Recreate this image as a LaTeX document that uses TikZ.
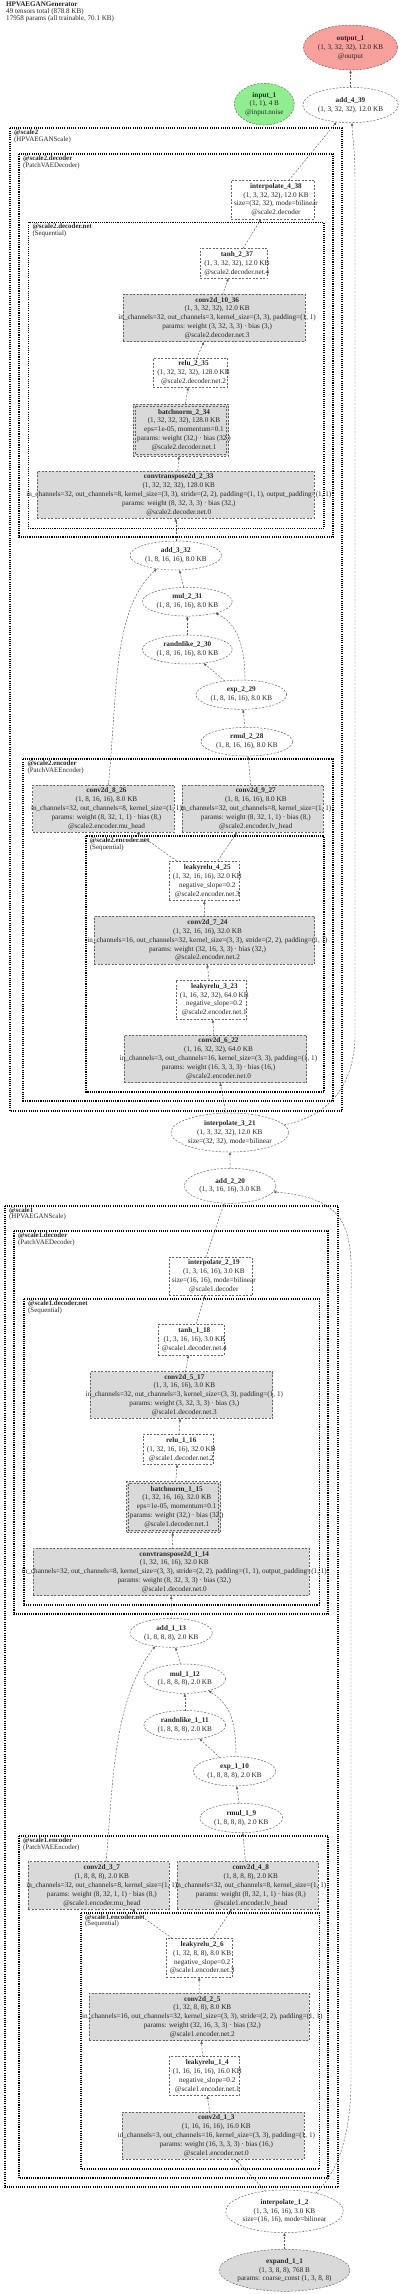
\documentclass[tikz,border=0pt]{standalone}
\usepackage{fontspec}
\setmainfont{Liberation Serif}
\usetikzlibrary{shapes.geometric,arrows.meta}
\definecolor{salmonx}{RGB}{247,160,156}
\definecolor{greenx}{RGB}{144,238,144}
\definecolor{grayx}{RGB}{217,217,217}
\newcommand\bx[7]{%
  \node[#2, minimum width={(#5-#3)*1pt}, minimum height={(#6-#4)*1pt}] (#1) at ({(#3+#5)/2},{(#4+#6)/2}) {};
  \node[txt] (#1t) at ([xshift=3pt]#1.center) {#7};}
\newcommand\el[7]{%
  \node[#2, minimum width=#5pt, minimum height=#6pt] (#1) at (#3,#4) {};
  \node[txt] (#1t) at (#1.center) {#7};}
\newcommand\clu[7]{%
  \draw[#1] (#2,#3) rectangle (#4,#5);
  \node[clab] (#6) at ({#2+4},{#3+1.6}) {#7};}
\begin{document}
\begin{tikzpicture}[x=1pt,y=-1pt,
  nb/.style={draw=black!60, dash pattern=on 2pt off 1.5pt, line width=0.5pt, inner sep=0pt, outer sep=0pt},
  wbox/.style={nb, rectangle, fill=white},
  gbox/.style={nb, rectangle, fill=grayx},
  well/.style={nb, ellipse, fill=white},
  txt/.style={align=center, inner sep=0pt, text=black!85, font=\fontsize{7.2}{8.9}\selectfont},
  clA/.style={draw=black, line width=2.2pt, dash pattern=on 1.1pt off 1.1pt},
  clB/.style={draw=black, line width=1.9pt, dash pattern=on 1.1pt off 1.1pt},
  clC/.style={draw=black, line width=1.6pt, dash pattern=on 1.1pt off 1.1pt},
  clab/.style={anchor=north west, align=left, inner sep=0pt, text=black!85, font=\fontsize{6.9}{6.6}\selectfont},
  edge/.style={draw=black!65, line width=0.45pt, dash pattern=on 2pt off 1.5pt, -{Latex[length=3.2pt,width=2.6pt]}},
]
\useasboundingbox (0,0) rectangle (400,2294);
\node[clab, font=\fontsize{7.1}{6.7}\selectfont] (title) at (6,2) {\textbf{HPVAEGANGenerator}\\49 tensors total (878.8 KB)\\17958 params (all trainable, 70.1 KB)};

% clusters
\clu{clA}{10}{128.3}{342.3}{1110.7}{cs2}{\textbf{@scale2}\\(HPVAEGANScale)}
\clu{clB}{19}{154}{333.3}{537.3}{cs2d}{\textbf{@scale2.decoder}\\(PatchVAEDecoder)}
\clu{clC}{28.3}{222.3}{324}{528.3}{cs2dn}{\textbf{@scale2.decoder.net}\\(Sequential)}
\clu{clB}{23.3}{759.3}{333.3}{1100.7}{cs2e}{\textbf{@scale2.encoder}\\(PatchVAEEncoder)}
\clu{clC}{85.7}{836}{324}{1091.7}{cs2en}{\textbf{@scale2.encoder.net}\\(Sequential)}
\clu{clA}{5}{1205.7}{338.3}{2187.3}{cs1}{\textbf{@scale1}\\(HPVAEGANScale)}
\clu{clB}{14}{1231}{328.3}{1614.3}{cs1d}{\textbf{@scale1.decoder}\\(PatchVAEDecoder)}
\clu{clC}{24}{1299}{319.3}{1605}{cs1dn}{\textbf{@scale1.decoder.net}\\(Sequential)}
\clu{clB}{19}{1836}{328.3}{2178.3}{cs1e}{\textbf{@scale1.encoder}\\(PatchVAEEncoder)}
\clu{clC}{81}{1912.7}{319.3}{2169}{cs1en}{\textbf{@scale1.encoder.net}\\(Sequential)}

% top
\el{out1}{well, fill=salmonx}{350.5}{47.5}{94.4}{45}{\textbf{output\_1}\\(1, 3, 32, 32), 12.0 KB\\@output}
\el{in1}{well, fill=greenx}{264.3}{104.2}{60}{41.7}{\textbf{input\_1}\\(1, 1), 4 B\\@input.noise}
\el{a439}{well}{350.5}{105}{95.6}{35.4}{\textbf{add\_4\_39}\\(1, 3, 32, 32), 12.0 KB}

% scale2 decoder
\bx{i438}{wbox}{231.3}{180.3}{314.7}{219}{\textbf{interpolate\_4\_38}\\(1, 3, 32, 32), 12.0 KB\\size=(32, 32), mode=bilinear\\@scale2.decoder}
\bx{t237}{wbox}{200}{248.3}{267.7}{278.3}{\textbf{tanh\_2\_37}\\(1, 3, 32, 32), 12.0 KB\\@scale2.decoder.net.4}
\bx{c1036}{gbox}{123.3}{294.3}{305}{341.7}{\textbf{conv2d\_10\_36}\\(1, 3, 32, 32), 12.0 KB\\in\_channels=32, out\_channels=3, kernel\_size=(3, 3), padding=(1, 1)\\params: weight (3, 32, 3, 3) · bias (3,)\\@scale2.decoder.net.3}
\bx{r235}{wbox}{153.3}{358.3}{227.7}{387.3}{\textbf{relu\_2\_35}\\(1, 32, 32, 32), 128.0 KB\\@scale2.decoder.net.2}
\bx{b234}{gbox}{133.3}{404}{228.7}{456}{}
\draw[nb] ([shift={(2pt,-2pt)}]b234.north west) rectangle ([shift={(-2pt,2pt)}]b234.south east);
\node[txt] (b234t) at ([xshift=3pt]b234.center) {\textbf{batchnorm\_2\_34}\\(1, 32, 32, 32), 128.0 KB\\eps=1e-05, momentum=0.1\\params: weight (32,) · bias (32,)\\@scale2.decoder.net.1};
\bx{ct233}{gbox}{37.3}{471}{314.3}{518.3}{\textbf{convtranspose2d\_2\_33}\\(1, 32, 32, 32), 128.0 KB\\in\_channels=32, out\_channels=8, kernel\_size=(3, 3), stride=(2, 2), padding=(1, 1), output\_padding=(1, 1)\\params: weight (8, 32, 3, 3) · bias (32,)\\@scale2.decoder.net.0}

% scale2 latent
\el{a332}{well}{175.8}{555.5}{91.7}{29}{\textbf{add\_3\_32}\\(1, 8, 16, 16), 8.0 KB}
\el{m231}{well}{187.3}{601.7}{90}{28.7}{\textbf{mul\_2\_31}\\(1, 8, 16, 16), 8.0 KB}
\el{r230}{well}{187.3}{649.5}{90}{29}{\textbf{randnlike\_2\_30}\\(1, 8, 16, 16), 8.0 KB}
\el{e229}{well}{241.3}{694.7}{90.7}{29.3}{\textbf{exp\_2\_29}\\(1, 8, 16, 16), 8.0 KB}
\el{rm228}{well}{246.8}{741.7}{91.7}{28.7}{\textbf{rmul\_2\_28}\\(1, 8, 16, 16), 8.0 KB}

% scale2 encoder
\bx{c826}{gbox}{32.7}{785}{174.3}{832.3}{\textbf{conv2d\_8\_26}\\(1, 8, 16, 16), 8.0 KB\\in\_channels=32, out\_channels=8, kernel\_size=(1, 1)\\params: weight (8, 32, 1, 1) · bias (8,)\\@scale2.encoder.mu\_head}
\bx{c927}{gbox}{182.3}{785}{323.3}{832.3}{\textbf{conv2d\_9\_27}\\(1, 8, 16, 16), 8.0 KB\\in\_channels=32, out\_channels=8, kernel\_size=(1, 1)\\params: weight (8, 32, 1, 1) · bias (8,)\\@scale2.encoder.lv\_head}
\bx{l425}{wbox}{169.3}{861}{239.3}{900.7}{\textbf{leakyrelu\_4\_25}\\(1, 32, 16, 16), 32.0 KB\\negative\_slope=0.2\\@scale2.encoder.net.3}
\bx{c724}{gbox}{94.3}{916.3}{314.7}{964.3}{\textbf{conv2d\_7\_24}\\(1, 32, 16, 16), 32.0 KB\\in\_channels=16, out\_channels=32, kernel\_size=(3, 3), stride=(2, 2), padding=(1, 1)\\params: weight (32, 16, 3, 3) · bias (32,)\\@scale2.encoder.net.2}
\bx{l323}{wbox}{176}{980}{246.7}{1019.3}{\textbf{leakyrelu\_3\_23}\\(1, 16, 32, 32), 64.0 KB\\negative\_slope=0.2\\@scale2.encoder.net.1}
\bx{c622}{gbox}{124.3}{1035}{306.7}{1082.7}{\textbf{conv2d\_6\_22}\\(1, 16, 32, 32), 64.0 KB\\in\_channels=3, out\_channels=16, kernel\_size=(3, 3), padding=(1, 1)\\params: weight (16, 3, 3, 3) · bias (16,)\\@scale2.encoder.net.0}

\el{i321}{well}{229.8}{1132.5}{117.7}{39}{\textbf{interpolate\_3\_21}\\(1, 3, 32, 32), 12.0 KB\\size=(32, 32), mode=bilinear}
\el{a220}{well}{230.2}{1185.8}{91.7}{35}{\textbf{add\_2\_20}\\(1, 3, 16, 16), 3.0 KB}

% scale1 decoder
\bx{i219}{wbox}{169.3}{1257.3}{252.3}{1295.7}{\textbf{interpolate\_2\_19}\\(1, 3, 16, 16), 3.0 KB\\size=(16, 16), mode=bilinear\\@scale1.decoder}
\bx{t118}{wbox}{158.3}{1324.3}{224.3}{1355}{\textbf{tanh\_1\_18}\\(1, 3, 16, 16), 3.0 KB\\@scale1.decoder.net.4}
\bx{c517}{gbox}{90}{1371.7}{272.7}{1418.3}{\textbf{conv2d\_5\_17}\\(1, 3, 16, 16), 3.0 KB\\in\_channels=32, out\_channels=3, kernel\_size=(3, 3), padding=(1, 1)\\params: weight (3, 32, 3, 3) · bias (3,)\\@scale1.decoder.net.3}
\bx{r116}{wbox}{143.3}{1434.3}{213.3}{1464.3}{\textbf{relu\_1\_16}\\(1, 32, 16, 16), 32.0 KB\\@scale1.decoder.net.2}
\bx{b115}{gbox}{126.7}{1481.7}{220.7}{1532.3}{}
\draw[nb] ([shift={(2pt,-2pt)}]b115.north west) rectangle ([shift={(-2pt,2pt)}]b115.south east);
\node[txt] (b115t) at ([xshift=3pt]b115.center) {\textbf{batchnorm\_1\_15}\\(1, 32, 16, 16), 32.0 KB\\eps=1e-05, momentum=0.1\\params: weight (32,) · bias (32,)\\@scale1.decoder.net.1};
\bx{ct114}{gbox}{33.3}{1548.3}{309.3}{1595.7}{\textbf{convtranspose2d\_1\_14}\\(1, 32, 16, 16), 32.0 KB\\in\_channels=32, out\_channels=8, kernel\_size=(3, 3), stride=(2, 2), padding=(1, 1), output\_padding=(1, 1)\\params: weight (8, 32, 3, 3) · bias (32,)\\@scale1.decoder.net.0}

% scale1 latent
\el{a113}{well}{171.2}{1632.8}{82.3}{29}{\textbf{add\_1\_13}\\(1, 8, 8, 8), 2.0 KB}
\el{m112}{well}{184.8}{1678.7}{81.7}{29.3}{\textbf{mul\_1\_12}\\(1, 8, 8, 8), 2.0 KB}
\el{r111}{well}{184.8}{1725}{81.7}{29}{\textbf{randnlike\_1\_11}\\(1, 8, 8, 8), 2.0 KB}
\el{e110}{well}{234.5}{1771.3}{82.3}{29.3}{\textbf{exp\_1\_10}\\(1, 8, 8, 8), 2.0 KB}
\el{rm19}{well}{241.3}{1818}{82.7}{29.3}{\textbf{rmul\_1\_9}\\(1, 8, 8, 8), 2.0 KB}

% scale1 encoder
\bx{c37}{gbox}{28.3}{1861.7}{169.3}{1909.3}{\textbf{conv2d\_3\_7}\\(1, 8, 8, 8), 2.0 KB\\in\_channels=32, out\_channels=8, kernel\_size=(1, 1)\\params: weight (8, 32, 1, 1) · bias (8,)\\@scale1.encoder.mu\_head}
\bx{c48}{gbox}{177.3}{1861.7}{318.3}{1909.3}{\textbf{conv2d\_4\_8}\\(1, 8, 8, 8), 2.0 KB\\in\_channels=32, out\_channels=8, kernel\_size=(1, 1)\\params: weight (8, 32, 1, 1) · bias (8,)\\@scale1.encoder.lv\_head}
\bx{l26}{wbox}{166}{1938.3}{232.3}{1977.3}{\textbf{leakyrelu\_2\_6}\\(1, 32, 8, 8), 8.0 KB\\negative\_slope=0.2\\@scale1.encoder.net.3}
\bx{c25}{gbox}{89.3}{1993.3}{309.3}{2040.7}{\textbf{conv2d\_2\_5}\\(1, 32, 8, 8), 8.0 KB\\in\_channels=16, out\_channels=32, kernel\_size=(3, 3), stride=(2, 2), padding=(1, 1)\\params: weight (32, 16, 3, 3) · bias (32,)\\@scale1.encoder.net.2}
\bx{l14}{wbox}{169.3}{2056.7}{239.3}{2095.7}{\textbf{leakyrelu\_1\_4}\\(1, 16, 16, 16), 16.0 KB\\negative\_slope=0.2\\@scale1.encoder.net.1}
\bx{c13}{gbox}{122.3}{2112.3}{304.3}{2159.3}{\textbf{conv2d\_1\_3}\\(1, 16, 16, 16), 16.0 KB\\in\_channels=3, out\_channels=16, kernel\_size=(3, 3), padding=(1, 1)\\params: weight (16, 3, 3, 3) · bias (16,)\\@scale1.encoder.net.0}

\el{i12}{well}{284.5}{2211.3}{117.7}{42.7}{\textbf{interpolate\_1\_2}\\(1, 3, 16, 16), 3.0 KB\\size=(16, 16), mode=bilinear}
\el{ex11}{well, fill=grayx}{284.5}{2270.3}{131}{42}{\textbf{expand\_1\_1}\\(1, 3, 8, 8), 768 B\\params: coarse\_const (1, 3, 8, 8)}

% edges
\draw[edge] (a439) -- (out1);
\draw[edge] (i438) -- (a439);
\draw[edge] (t237) -- (i438);
\draw[edge] (c1036) -- (t237);
\draw[edge] (r235) -- (c1036);
\draw[edge] (b234) -- (r235);
\draw[edge] (ct233) -- (b234);
\draw[edge] (a332) -- (ct233);
\draw[edge] (m231) -- (a332);
\draw[edge] (r230) -- (m231);
\draw[edge] (e229) -- (r230);
\draw[edge] ([xshift=3.7pt]e229.north) .. controls (245,655) and (241,625) .. (m231.-22);
\draw[edge] (rm228) -- (e229);
\draw[edge] (c927) -- (rm228);
\draw[edge] ([xshift=4.8pt]c826.north) .. controls (118,690) and (112,610) .. (a332.215);
\draw[edge] (l425) -- (c826);
\draw[edge] (l425) -- (c927);
\draw[edge] (c724) -- (l425);
\draw[edge] (l323) -- (c724);
\draw[edge] (c622) -- (l323);
\draw[edge] (i321) -- (c622);
\draw[edge] (i321.8) .. controls (320,1118) and (352,1095) .. (355,1040) -- (355,180) .. controls (355,145) and (352,135) .. ([xshift=1.5pt]a439.south);
\draw[edge] (a220) -- (i321);
\draw[edge] ([xshift=-5pt]i219.north) -- (a220);
\draw[edge] (t118) -- (i219);
\draw[edge] (c517) -- (t118);
\draw[edge] (r116) -- (c517);
\draw[edge] (b115) -- (r116);
\draw[edge] (ct114) -- (b115);
\draw[edge] (a113) -- (ct114);
\draw[edge] (m112) -- (a113);
\draw[edge] (r111) -- (m112);
\draw[edge] (e110) -- (r111);
\draw[edge] ([xshift=1.5pt]e110.north) .. controls (236,1725) and (232,1705) .. (m112.-27);
\draw[edge] (rm19) -- (e110);
\draw[edge] (c48) -- (rm19);
\draw[edge] ([xshift=7.2pt]c37.north) .. controls (113,1790) and (112,1700) .. (a113.220);
\draw[edge] (l26) -- (c37);
\draw[edge] (l26) -- (c48);
\draw[edge] (c25) -- (l26);
\draw[edge] (l14) -- (c25);
\draw[edge] (c13) -- (l14);
\draw[edge] (i12) -- (c13);
\draw[edge] (i12.30) .. controls (340,2170) and (351,2130) .. (351,2080) -- (351,1290) .. controls (353,1225) and (345,1198) .. (a220.-8);
\draw[edge] (ex11) -- (i12);
\end{tikzpicture}
\end{document}
